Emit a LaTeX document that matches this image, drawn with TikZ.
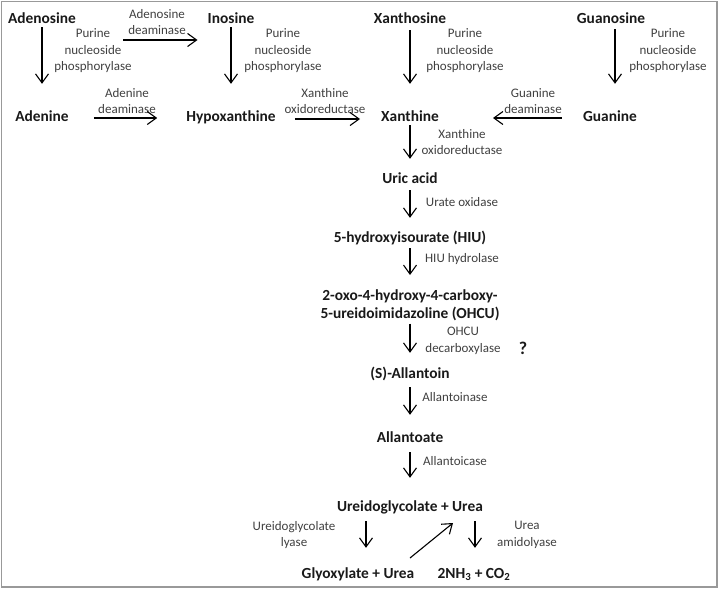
\documentclass[tikz,border=0pt]{standalone}
\usepackage{fontspec}
\setmainfont{Carlito}
\usetikzlibrary{arrows.meta}
\tikzset{
>={Straight Barb[length=9pt,width=13pt]},
  compound/.style={
    font=\fontsize{15.4}{18}\selectfont\bfseries,
    text=black!90,
    inner sep=0pt,
    text height=11pt,
    text depth=1pt},
  longcompound/.style={
    font=\fontsize{15.4}{18}\selectfont\bfseries,
    text=black!90,
    inner sep=0pt,
    align=center},
  enzyme/.style={
    font=\fontsize{13}{16.5}\selectfont,
    text=black!75,
    inner sep=0pt,
    align=center},
  line/.style={draw, ->, line width=1.1pt},
}

\begin{document}
\begin{tikzpicture}[x=1pt, y=-1pt]
\useasboundingbox (0,0) rectangle (719,589);
\draw[black!40, line width=1.5pt] (1.5,1.5) rectangle (717,587);

% nucleosides
\node[compound] (Adenosine) at (42,18) {Adenosine};
\node[compound] (Inosine) at (231,18) {Inosine};
\node[compound] (Xanthosine) at (410,18) {Xanthosine};
\node[compound] (Guanosine) at (611,18) {Guanosine};
% bases
\node[compound] (Adenine) at (42,116) {Adenine};
\node[compound] (Hypoxanthine) at (231,116) {Hypoxanthine};
\node[compound] (Xanthine) at (410,116) {Xanthine};
\node[compound] (Guanine) at (610,116) {Guanine};
% uric acid pathway
\node[compound] (UricAcid) at (410,178) {Uric acid};
\node[compound] (HIU) at (410,237) {5-hydroxyisourate (HIU)};
\node[longcompound, anchor=north] (OHCU) at (410,289) {2-oxo-4-hydroxy-4-carboxy-\\5-ureidoimidazoline (OHCU)};
\node[compound] (Allantoin) at (410,373) {(S)-Allantoin};
\node[compound] (Allantoate) at (410,437) {Allantoate};
\node[compound] (Ureidoglycolate) at (410,506) {Ureidoglycolate + Urea};
\node[compound] (Glyoxylate) at (358,573) {Glyoxylate + Urea};
\node[compound] (Ammonia) at (474,573) {2NH\textsubscript{3} + CO\textsubscript{2}};

% enzymes
\node[enzyme] (PNPado) at (93,51) {Purine\\nucleoside\\phosphorylase};
\node[enzyme] (PNPino) at (283,51) {Purine\\nucleoside\\phosphorylase};
\node[enzyme] (PNPxao) at (465,51) {Purine\\nucleoside\\phosphorylase};
\node[enzyme] (PNPguo) at (668,51) {Purine\\nucleoside\\phosphorylase};
\node[enzyme] (ADA) at (157,22) {Adenosine\\deaminase};
\node[enzyme] (AdeD) at (127,101) {Adenine\\deaminase};
\node[enzyme] (XORhyp) at (325,101) {Xanthine\\oxidoreductase};
\node[enzyme] (GDA) at (533,101) {Guanine\\deaminase};
\node[enzyme] (XORxan) at (462,142) {Xanthine\\oxidoreductase};
\node[enzyme] (UOX) at (462,202) {Urate oxidase};
\node[enzyme] (HIUH) at (462,259) {HIU hydrolase};
\node[enzyme] (OHCUD) at (463,341) {OHCU\\decarboxylase};
\node[font=\fontsize{18}{20}\selectfont\bfseries, text=black!90, inner sep=0pt] (Unknown) at (523,348) {?};
\node[enzyme] (ALN) at (455,397) {Allantoinase};
\node[enzyme] (ALC) at (455,461) {Allantoicase};
\node[enzyme] (UGL) at (294,535) {Ureidoglycolate\\lyase};
\node[enzyme] (UAM) at (527,535) {Urea\\amidolyase};

% nucleosides to bases
\draw[line, shorten <=3pt, shorten >=26pt] (Adenosine.south) -- (Adenine.north);
\draw[line, shorten <=3pt, shorten >=26pt] (Inosine.south) -- (Hypoxanthine.north);
\draw[line, shorten <=6pt, shorten >=26pt] (Xanthosine.south) -- (Xanthine.north);
\draw[line, shorten <=5pt, shorten >=26pt] ([xshift=4pt]Guanosine.south) -- ([xshift=5pt]Guanine.north);
\draw[line, shorten <=47pt, shorten >=10pt] ([yshift=-22pt]Adenosine.east) -- ([yshift=-22pt]Inosine.west);
\draw[line, shorten <=25pt, shorten >=29pt] ([yshift=-2pt]Adenine.east) -- ([yshift=-2pt]Hypoxanthine.west);
\draw[line, shorten <=19pt, shorten >=21pt] ([yshift=-3pt]Hypoxanthine.east) -- ([yshift=-3pt]Xanthine.west);
\draw[line, shorten <=21pt, shorten >=54pt] ([yshift=-2pt]Guanine.west) -- ([yshift=-2pt]Xanthine.east);

% down the main column
\draw[line, shorten <=3pt, shorten >=13pt] (Xanthine.south) -- (UricAcid.north);
\draw[line, shorten <=6pt, shorten >=13pt] (UricAcid.south) -- (HIU.north);
\draw[line, shorten <=5pt, shorten >=14pt] (HIU.south) -- (OHCU.north);
\draw[line, shorten <=3pt, shorten >=14pt] (OHCU.south) -- (Allantoin.north);
\draw[line, shorten <=8pt, shorten >=16pt] (Allantoin.south) -- (Allantoate.north);
\draw[line, shorten <=9pt, shorten >=22pt] (Allantoate.south) -- (Ureidoglycolate.north);

% last step
\draw[line, shorten <=9pt, shorten >=19pt] ([xshift=-44pt]Ureidoglycolate.south) -- ([xshift=8pt]Glyoxylate.north);
\draw[line, shorten <=9pt, shorten >=19pt] ([xshift=65pt]Ureidoglycolate.south) -- ([xshift=1pt]Ammonia.north);
\draw[line] ([shift={(52,-15)}]Glyoxylate.center) -- ([shift={(43,17)}]Ureidoglycolate.center);

\end{tikzpicture}
\end{document}
